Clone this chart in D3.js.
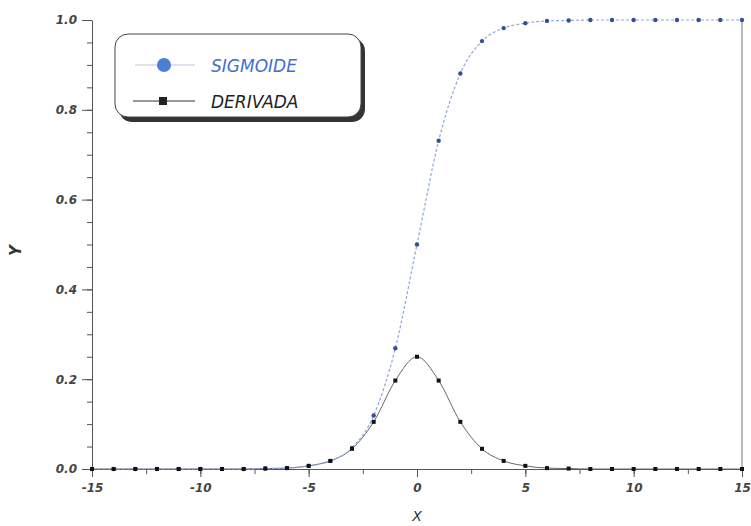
<!DOCTYPE html>
<html>
<head>
<meta charset="utf-8">
<script src="https://cdn.jsdelivr.net/npm/d3@7"></script>
<style>
  body { margin: 0; background: #fff; }
  text { font-family: "DejaVu Sans", sans-serif; font-style: italic; }
</style>
</head>
<body>
<svg id="chart"></svg>
<script>
// Data
const xValues = [-15, -14, -13, -12, -11, -10, -9, -8, -7, -6, -5, -4, -3, -2, -1, 0,
                 1, 2, 3, 4, 5, 6, 7, 8, 9, 10, 11, 12, 13, 14, 15];
const sigmoide = [0.000, 0.000, 0.000, 0.000, 0.000, 0.000, 0.000, 0.000, 0.001, 0.002, 0.007,
                  0.018, 0.047, 0.119, 0.269, 0.500, 0.731, 0.881, 0.953, 0.982, 0.993,
                  0.998, 0.999, 1.000, 1.000, 1.000, 1.000, 1.000, 1.000, 1.000, 1.000];
const derivada = [0.000, 0.000, 0.000, 0.000, 0.000, 0.000, 0.000, 0.000, 0.001, 0.002, 0.007,
                  0.018, 0.045, 0.105, 0.197, 0.250, 0.197, 0.105, 0.045, 0.018, 0.007,
                  0.002, 0.001, 0.000, 0.000, 0.000, 0.000, 0.000, 0.000, 0.000, 0.000];
const xTicks = [-15, -10, -5, 0, 5, 10, 15];
const yTicks = [0, 0.2, 0.4, 0.6, 0.8, 1.0];
const legendLabels = ['SIGMOIDE', 'DERIVADA'];

const width = 751;
const height = 526;
const margin = { top: 20, right: 9, bottom: 57, left: 92 };

const svg = d3.select('#chart')
  .attr('width', width)
  .attr('height', height);

// Scales
const xScale = d3.scaleLinear()
  .domain([-15, 15])
  .range([margin.left, width - margin.right]);

const yScale = d3.scaleLinear()
  .domain([0, 1])
  .range([height - margin.bottom, margin.top]);

const axisColor = '#555';

// Minor ticks first
svg.append('g')
  .attr('transform', `translate(0, ${yScale(0)})`)
  .call(d3.axisBottom(xScale).tickValues(d3.range(-15, 15.1, 2.5)).tickSize(5).tickFormat('').tickSizeOuter(0))
  .call(g => g.select('.domain').remove())
  .call(g => g.selectAll('line').attr('stroke', axisColor));

svg.append('g')
  .attr('transform', `translate(${xScale(-15)}, 0)`)
  .call(d3.axisLeft(yScale).tickValues(d3.range(0, 1.001, 0.05)).tickSize(5).tickFormat('').tickSizeOuter(0))
  .call(g => g.select('.domain').remove())
  .call(g => g.selectAll('line').attr('stroke', axisColor));

// Major axes (plain hyphen for negatives, like the original)
const xAxis = svg.append('g')
  .attr('transform', `translate(0, ${yScale(0)})`)
  .call(d3.axisBottom(xScale).tickValues(xTicks).tickSize(8).tickSizeOuter(0).tickPadding(6).tickFormat(d => String(d)));

const yAxis = svg.append('g')
  .attr('transform', `translate(${xScale(-15)}, 0)`)
  .call(d3.axisLeft(yScale).tickValues(yTicks).tickSize(10).tickSizeOuter(0).tickPadding(5).tickFormat(d => d.toFixed(1)));

[xAxis, yAxis].forEach(g => {
  g.select('.domain').attr('stroke', axisColor);
  g.selectAll('line').attr('stroke', axisColor);
  g.selectAll('text')
    .attr('fill', '#444')
    .attr('font-size', '12px')
    .attr('font-weight', 'bold')
    .attr('font-family', '"DejaVu Sans", sans-serif')
    .attr('font-style', 'italic');
});

// Right frame line
svg.append('line')
  .attr('x1', xScale(15)).attr('x2', xScale(15))
  .attr('y1', yScale(1)).attr('y2', yScale(0))
  .attr('stroke', '#777');

// Axis labels
svg.append('text')
  .attr('x', xScale(0))
  .attr('y', height - 5)
  .attr('text-anchor', 'middle')
  .attr('font-size', '14px')
  .attr('fill', '#333')
  .text('X');

svg.append('text')
  .attr('transform', `translate(21, ${yScale(0.5) + 6}) rotate(-90)`)
  .attr('text-anchor', 'middle')
  .attr('font-size', '15px')
  .attr('font-weight', 'bold')
  .attr('fill', '#333')
  .text('Y');

// Lines
const line = d3.line()
  .x((d, i) => xScale(xValues[i]))
  .y(d => yScale(d))
  .curve(d3.curveMonotoneX);

svg.append('path')
  .datum(derivada)
  .attr('fill', 'none')
  .attr('stroke', '#666')
  .attr('stroke-width', 1)
  .attr('d', line);

svg.append('path')
  .datum(sigmoide)
  .attr('fill', 'none')
  .attr('stroke', '#8fa6e0')
  .attr('stroke-width', 1.2)
  .attr('stroke-dasharray', '3,2')
  .attr('d', line);

// Markers
svg.selectAll('.sig-dot')
  .data(sigmoide)
  .join('circle')
  .attr('class', 'sig-dot')
  .attr('cx', (d, i) => xScale(xValues[i]))
  .attr('cy', d => yScale(d))
  .attr('r', 2.2)
  .attr('fill', '#34509a');

svg.selectAll('.der-dot')
  .data(derivada)
  .join('rect')
  .attr('class', 'der-dot')
  .attr('x', (d, i) => xScale(xValues[i]) - 2)
  .attr('y', d => yScale(d) - 2)
  .attr('width', 4)
  .attr('height', 4)
  .attr('fill', '#111');

// Legend
const legend = svg.append('g');
legend.append('rect')
  .attr('x', 119).attr('y', 38)
  .attr('width', 246).attr('height', 84)
  .attr('rx', 13)
  .attr('fill', '#333');
legend.append('rect')
  .attr('x', 115).attr('y', 34)
  .attr('width', 246).attr('height', 83)
  .attr('rx', 13)
  .attr('fill', '#fff')
  .attr('stroke', '#444')
  .attr('stroke-width', 1);

legend.append('line')
  .attr('x1', 135).attr('x2', 195)
  .attr('y1', 65).attr('y2', 65)
  .attr('stroke', '#b8c4dc');
legend.append('circle')
  .attr('cx', 164).attr('cy', 65).attr('r', 7)
  .attr('fill', '#4a7fd8');
legend.append('line')
  .attr('x1', 133).attr('x2', 195)
  .attr('y1', 101).attr('y2', 101)
  .attr('stroke', '#333');
legend.append('rect')
  .attr('x', 159).attr('y', 97).attr('width', 8).attr('height', 8)
  .attr('fill', '#222');

legend.append('text')
  .attr('x', 211).attr('y', 72)
  .attr('font-size', '17px')
  .attr('fill', '#3f6fd0')
  .text(legendLabels[0]);
legend.append('text')
  .attr('x', 211).attr('y', 108)
  .attr('font-size', '17px')
  .attr('fill', '#222')
  .text(legendLabels[1]);
</script>
</body>
</html>
